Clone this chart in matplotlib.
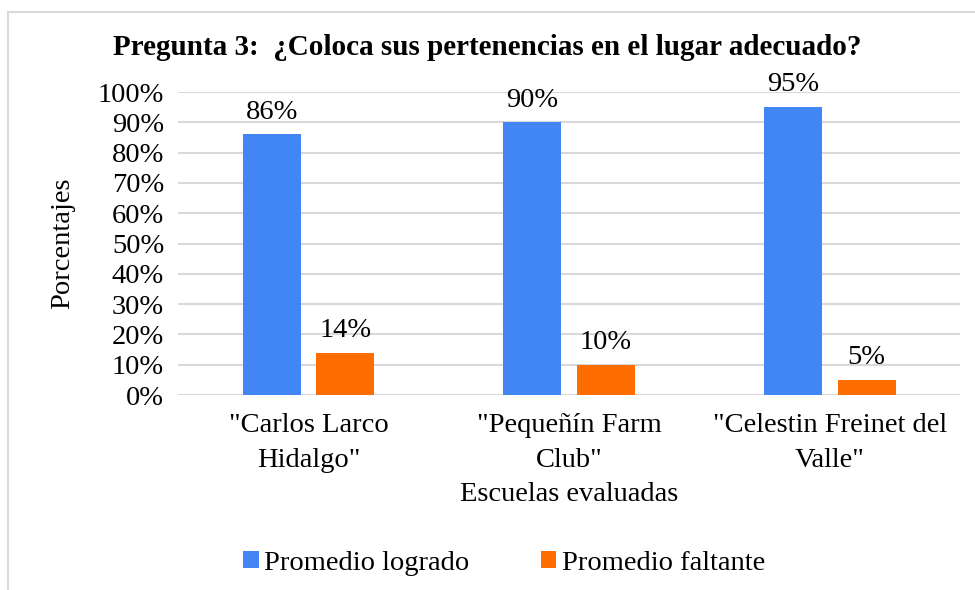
import numpy as np
import matplotlib.pyplot as plt
from matplotlib.patches import Rectangle

plt.rcParams['font.family'] = ['Liberation Serif', 'DejaVu Serif']

escuelas = ['"Carlos Larco\nHidalgo"', '"Pequeñín Farm\nClub"', '"Celestin Freinet del\nValle"']
logrado = [86, 90, 95]
faltante = [14, 10, 5]
series_names = ['Promedio logrado', 'Promedio faltante']
colors = ['#4285F4', '#FF6D01']

fs = 20.5

fig = plt.figure(figsize=(9.75, 5.9), dpi=100)
ax = fig.add_axes([0.1826, 0.3305, 0.8024, 0.5135])

x = np.arange(len(escuelas))
w = 0.222
off = 0.141
b1 = ax.bar(x - off, logrado, w, color=colors[0], label=series_names[0], zorder=3)
b2 = ax.bar(x + off, faltante, w, color=colors[1], label=series_names[1], zorder=3)

for bars, vals in ((b1, logrado), (b2, faltante)):
    for r, v in zip(bars, vals):
        ax.annotate(f'{v}%', (r.get_x() + r.get_width() / 2, v),
                    xytext=(0, 7), textcoords='offset points',
                    ha='center', va='bottom', fontsize=fs)

ax.set_xlim(-0.5, 2.5)
ax.set_ylim(0, 100)
ax.set_yticks(range(0, 101, 10))
ax.set_yticklabels([f'{t}%' for t in range(0, 101, 10)], fontsize=fs)
ax.set_xticks(x)
ax.set_xticklabels(escuelas, fontsize=fs, linespacing=1.5)
ax.tick_params(axis='y', length=0, pad=10)
ax.tick_params(axis='x', length=0, pad=13)
ax.grid(axis='y', color='#d9d9d9', linewidth=1.5, zorder=0)
for s in ax.spines.values():
    s.set_visible(False)

ax.set_ylabel('Porcentajes', fontsize=fs, labelpad=16)
ax.set_xlabel('Escuelas evaluadas', fontsize=fs, labelpad=7)
fig.text(0.5, 0.92, 'Pregunta 3:  ¿Coloca sus pertenencias en el lugar adecuado?',
         ha='center', va='center', fontsize=21, fontweight='bold')

fig.legend(loc='center', bbox_to_anchor=(0.517, 0.045), ncol=2, frameon=False,
           fontsize=fs, handlelength=0.55, handleheight=0.55, columnspacing=2.5,
           handletextpad=0.2)

fig.patches.append(Rectangle((8 / 975, -0.1), 2, 1.1 - 12 / 590,
                             transform=fig.transFigure, fill=False,
                             edgecolor='#d9d9d9', linewidth=1.5))

fig.savefig('out.png', dpi=100)
